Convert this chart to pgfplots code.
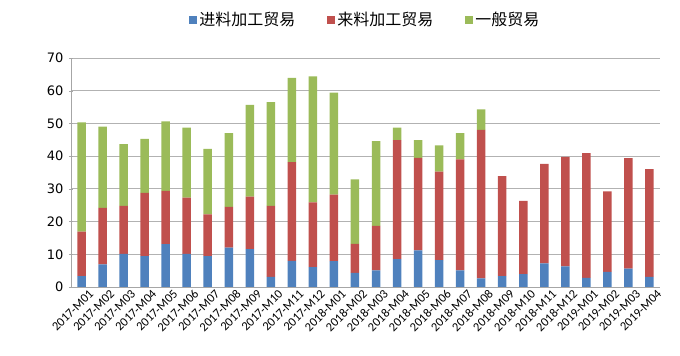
\documentclass[border=0pt]{standalone}
\usepackage{pgfplots}
\pgfplotsset{compat=1.18}
\usepackage{pgfplotstable}
\usepackage{fontspec}
\setmainfont{Carlito}
\newfontfamily\cjk{Noto Sans CJK SC}
\newfontfamily\dvs{DejaVu Sans}
\definecolor{cblue}{HTML}{4F81BD}
\definecolor{cred}{HTML}{C0504D}
\definecolor{cgreen}{HTML}{9BBB59}
\pgfplotstableread{
x blue red green
0 3.3 13.6 33.4
1 6.9 17.3 24.8
2 10.1 14.7 18.9
3 9.4 19.4 16.5
4 13.1 16.3 21.2
5 10.1 17.2 21.4
6 9.4 12.8 20.0
7 12.0 12.5 22.5
8 11.6 16.0 28.1
9 3.1 21.7 31.7
10 8.0 30.2 25.7
11 6.1 19.8 38.5
12 7.9 20.3 31.2
13 4.3 8.9 19.7
14 5.1 13.6 25.9
15 8.5 36.4 3.8
16 11.2 28.3 5.4
17 8.2 27.1 8.0
18 5.1 33.9 8.0
19 2.6 45.4 6.3
20 3.3 30.6 0
21 3.9 22.4 0
22 7.2 30.4 0
23 6.3 33.5 0
24 2.8 38.1 0
25 4.6 24.6 0
26 5.6 33.8 0
27 3.1 32.9 0
}\datatable
\begin{document}
\begin{tikzpicture}
\begin{axis}[
  name=ax,
  scale only axis,
  width=589pt, height=229pt,
  ybar stacked,
  bar width=8.5pt,
  xmin=-0.5, xmax=27.5,
  ymin=0, ymax=70,
  ytick={0,10,...,70},
  xtick={0,...,27},
  xticklabels={2017-M01,2017-M02,2017-M03,2017-M04,2017-M05,2017-M06,2017-M07,2017-M08,2017-M09,2017-M10,2017-M11,2017-M12,2018-M01,2018-M02,2018-M03,2018-M04,2018-M05,2018-M06,2018-M07,2018-M08,2018-M09,2018-M10,2018-M11,2018-M12,2019-M01,2019-M02,2019-M03,2019-M04},
  x tick label style={rotate=45, anchor=east, font=\fontsize{12.5}{14}\selectfont, inner sep=0pt, xshift=5pt, yshift=-9pt},
  y tick label style={font=\dvs\fontsize{13}{15}\selectfont, xshift=-2pt},
  /pgf/number format/assume math mode=true,
  major x tick style={draw=none},
  extra x ticks={-0.5,0.5,...,27.5},
  extra x tick labels={},
  extra x tick style={major tick length=4pt, tick style={draw=gray!70}, grid=none},
  tick align=outside,
  major tick length=4pt,
  ymajorgrids,
  grid style={gray!60, line width=0.8pt},
  axis x line=bottom,
  axis y line=left,
  axis line style={-, gray!70, line width=0.8pt},
  y tick style={gray!70},
  legend style={draw=none, at={(0.5,1.166)}, anchor=center, legend columns=3,
    font=\cjk\fontsize{16}{18}\selectfont,
    /tikz/every even column/.append style={column sep=30pt}},
  legend image code/.code={\fill[#1] (0pt,-4pt) rectangle (8pt,4pt);},
]
\addplot[fill=cblue, draw=none] table[x=x, y=blue] {\datatable};
\addplot[fill=cred, draw=none] table[x=x, y=red] {\datatable};
\addplot[fill=cgreen, draw=none] table[x=x, y=green] {\datatable};
\legend{进料加工贸易,来料加工贸易,一般贸易}
\end{axis}
\path ([xshift=-71pt,yshift=-69pt]ax.south west) rectangle ([xshift=20pt,yshift=58pt]ax.north east);
\end{tikzpicture}
\end{document}
